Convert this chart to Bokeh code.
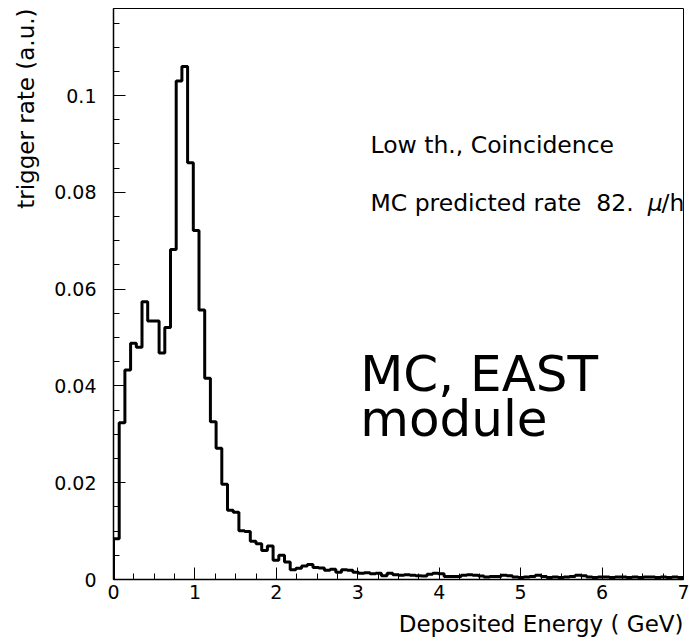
from bokeh.plotting import figure
from bokeh.models import Label, FixedTicker, Range1d, Title
from bokeh.embed import file_html
from bokeh.resources import INLINE

# ---- data ----
bin_width = 0.07  # GeV, 100 bins from 0 to 7
rate = [
    0.0084, 0.0324, 0.0433, 0.0488, 0.0480, 0.0574, 0.0534, 0.0534, 0.0468, 0.0521,
    0.0682, 0.1030, 0.1060, 0.0861, 0.0721, 0.0557, 0.0416, 0.0326, 0.0271, 0.0197,
    0.0143, 0.0139, 0.0101, 0.0099, 0.0079, 0.0074, 0.0060, 0.0069, 0.0040, 0.0050,
    0.0036, 0.0020, 0.0023, 0.0028, 0.0031, 0.0025, 0.0024, 0.0019, 0.0021, 0.0015,
    0.0020, 0.0019, 0.0015, 0.0013, 0.0014, 0.0012, 0.0013, 0.0008, 0.0013, 0.0010,
    0.0009, 0.0010, 0.0009, 0.0008, 0.0007, 0.0011, 0.0013, 0.0012, 0.0006, 0.0006,
    0.0006, 0.0009, 0.0010, 0.0009, 0.0007, 0.0005, 0.0006, 0.0006, 0.0009, 0.0008,
    0.0005, 0.0004, 0.0005, 0.0006, 0.0009, 0.0006, 0.0004, 0.0005, 0.0004, 0.0005,
    0.0006, 0.0009, 0.0008, 0.0005, 0.0004, 0.0005, 0.0005, 0.0004, 0.0005, 0.0005,
    0.0004, 0.0005, 0.0004, 0.0005, 0.0005, 0.0004, 0.0005, 0.0004, 0.0005, 0.0004,
]
x_ticks = [0, 1, 2, 3, 4, 5, 6, 7]
x_tick_labels = ["0", "1", "2", "3", "4", "5", "6", "7"]
y_ticks = [0.0, 0.02, 0.04, 0.06, 0.08, 0.1]
y_tick_labels = ["0", "0.02", "0.04", "0.06", "0.08", "0.1"]

x_title = "Deposited Energy ( GeV)"
y_title = "trigger rate (a.u.)"
note1 = "Low th., Coincidence"
note2 = "MC predicted rate\u00a0\u00a082."
big1 = "MC, EAST"
big2 = "module"

FONT = "DejaVu Sans"

# ---- outline of the histogram ----
edges = [i * bin_width for i in range(len(rate) + 1)]
xs = [0.0] + edges
ys = [0.0] + rate + [rate[-1]]

p = figure(width=690, height=643, output_backend="svg", toolbar_location=None,
           x_range=Range1d(0, 7), y_range=Range1d(0, 0.118),
           min_border_left=113, min_border_right=7, min_border_top=8,
           min_border_bottom=64)
p.background_fill_color = "white"
p.border_fill_color = "white"
p.grid.visible = False
p.outline_line_color = "black"
p.outline_line_width = 1
p.outline_line_alpha = 1

p.step(xs, ys, mode="after", line_color="black", line_width=3)

# axes
p.xaxis.ticker = FixedTicker(ticks=x_ticks, minor_ticks=[i * 0.25 for i in range(29)])
p.xaxis.major_label_overrides = {t: l for t, l in zip(x_ticks, x_tick_labels)}
p.yaxis.ticker = FixedTicker(ticks=y_ticks, minor_ticks=[i * 0.005 for i in range(24)])
p.yaxis.major_label_overrides = {t: l for t, l in zip(y_ticks, y_tick_labels)}

for ax in (p.xaxis, p.yaxis):
    ax.major_tick_in = 12
    ax.major_tick_out = 0
    ax.minor_tick_in = 6
    ax.minor_tick_out = 0
    ax.major_tick_line_color = "black"
    ax.minor_tick_line_color = "black"
    ax.axis_line_color = "black"
    ax.axis_line_width = 1.5
    ax.major_label_text_font = FONT
    ax.major_label_text_font_size = "19px"
    ax.major_label_text_color = "black"
p.xaxis.major_label_standoff = 5
p.yaxis.major_label_standoff = 17

# axis titles (ROOT style: at the ends of the axes)
p.add_layout(Title(text=x_title, align="right", vertical_align="bottom",
                   text_font=FONT, text_font_size="23px", text_font_style="normal",
                   text_color="black", standoff=14), "below")
p.add_layout(Title(text=y_title, align="right", vertical_align="top",
                   text_font=FONT, text_font_size="23px", text_font_style="normal",
                   text_color="black", standoff=22), "left")

# notes
p.add_layout(Label(x=3.156, y=0.0897, text=note1, text_baseline="middle",
                   text_font=FONT, text_font_size="23.5px", text_color="black"))
p.add_layout(Label(x=3.156, y=0.0779, text=note2, text_baseline="middle",
                   text_font=FONT, text_font_size="23.5px", text_color="black"))
p.add_layout(Label(x=6.56, y=0.0779, text="\u03bc", text_baseline="middle",
                   text_font=FONT, text_font_size="23.5px", text_font_style="italic",
                   text_color="black"))
p.add_layout(Label(x=6.73, y=0.0779, text="/h", text_baseline="middle",
                   text_font=FONT, text_font_size="23.5px", text_color="black"))

p.add_layout(Label(x=3.03, y=0.0425, text=big1, text_baseline="alphabetic",
                   text_font=FONT, text_font_size="50px", text_color="black"))
p.add_layout(Label(x=3.03, y=0.0332, text=big2, text_baseline="alphabetic",
                   text_font=FONT, text_font_size="50px", text_color="black"))

open("out.html", "w").write(file_html(p, INLINE))
